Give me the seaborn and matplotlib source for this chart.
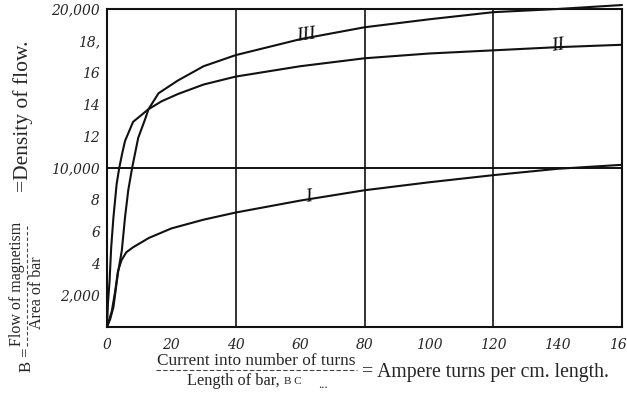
import matplotlib
matplotlib.use("Agg")
import matplotlib.pyplot as plt
import seaborn as sns
import pandas as pd
from matplotlib.lines import Line2D

# Curve I
x_I = [0, 1.5, 2.5, 3.4, 4.5, 6, 8, 13, 20, 30, 40, 60, 80, 100, 120, 140, 160]
y_I = [0, 1000, 2200, 3500, 4200, 4700, 5000, 5600, 6200, 6750, 7200, 7950, 8600, 9100, 9550, 9950, 10200]
# Curve II
x_II = [0, 0.3, 0.8, 1.3, 2.0, 3.0, 3.8, 4.7, 5.6, 8.1, 12.9, 17, 22, 30, 40, 60, 80, 100, 120, 140, 160]
y_II = [0, 1500, 2900, 5000, 6900, 9000, 10000, 10900, 11700, 12900, 13700, 14200, 14650, 15250, 15750, 16400, 16900, 17200, 17400, 17600, 17750]
# Curve III
x_III = [0, 1, 2, 3.4, 4.6, 5.6, 6.6, 7.8, 9.7, 11.9, 12.9, 16, 22, 30, 40, 50, 60, 80, 100, 120, 140, 160]
y_III = [0, 500, 1250, 3400, 4800, 6900, 8600, 10000, 11900, 13100, 13700, 14700, 15500, 16400, 17100, 17600, 18100, 18850, 19350, 19800, 20000, 20250]

y_ticks = [0, 2000, 4000, 6000, 8000, 10000, 12000, 14000, 16000, 18000, 20000]
y_labels = ["", "2,000", "4", "6", "8", "10,000", "12", "14", "16", "18,", "20,000"]
x_ticks = [0, 20, 40, 60, 80, 100, 120, 140, 160]
x_labels = ["0", "20", "40", "60", "80", "100", "120", "140", "160"]

sns.set_theme(style="white")
plt.rcParams['font.family'] = ['Liberation Serif', 'DejaVu Serif']

W, H = 627, 399
fig = plt.figure(figsize=(W / 100, H / 100), dpi=100)
ax = fig.add_axes([107 / W, 72 / H, 515 / W, 318 / H])

df = pd.concat([
    pd.DataFrame({"x": x_I, "B": y_I, "curve": "I"}),
    pd.DataFrame({"x": x_II, "B": y_II, "curve": "II"}),
    pd.DataFrame({"x": x_III, "B": y_III, "curve": "III"}),
])
sns.lineplot(data=df, x="x", y="B", hue="curve", palette=["#111111"] * 3,
             sort=False, estimator=None, legend=False, linewidth=1.5, ax=ax)
for ln in ax.lines:
    ln.set_clip_on(False)

ax.set_xlim(0, 160)
ax.set_ylim(0, 20000)
for xv in [40, 80, 120]:
    ax.axvline(xv, color="#111111", lw=1.2, zorder=1)
ax.axhline(10000, color="#111111", lw=1.4, zorder=1)

for s in ax.spines.values():
    s.set_visible(True)
    s.set_color("#111111")
    s.set_linewidth(1.5)

ax.set_yticks(y_ticks)
ax.set_yticklabels(y_labels, fontstyle="italic", fontsize=10, family=["DejaVu Serif"])
ax.set_xticks(x_ticks)
ax.set_xticklabels(x_labels, fontstyle="italic", fontsize=10, family=["DejaVu Serif"])
ax.tick_params(axis="y", direction="out", length=3, width=1.2, color="#111111", pad=2)
ax.tick_params(axis="x", direction="in", length=3, width=1.2, color="#111111", pad=8)
ax.set_xlabel("")
ax.set_ylabel("")

# Curve labels
ax.text(62, 18350, "III", fontsize=14, fontstyle="italic", rotation=8, ha="center", va="center", color="#111111")
ax.text(140, 17700, "II", fontsize=14, fontstyle="italic", rotation=8, ha="center", va="center", color="#111111")
ax.text(62.5, 8150, "I", fontsize=14, fontstyle="italic", rotation=8, ha="center", va="center", color="#111111")

def fx(px):
    return px / W

def fy(py):
    return 1 - py / H

# Y axis label (rotated fraction)
fig.text(fx(27), fy(360), "B =", rotation=90, fontsize=12, ha="center", va="center")
fig.text(fx(17), fy(284), "Flow of magnetism", rotation=90, fontsize=11.5, ha="center", va="center")
fig.text(fx(37), fy(293), "Area of bar", rotation=90, fontsize=11.5, ha="center", va="center")
fig.lines.append(Line2D([fx(27), fx(27)], [fy(346), fy(224)], transform=fig.transFigure,
                        color="#444444", lw=0.8, linestyle=(0, (3, 2))))
fig.text(fx(23), fy(116), "=Density of flow.", rotation=90, fontsize=15.5, ha="center", va="center")

# X axis label (fraction)
fig.text(fx(256), fy(361), "Current into number of turns", fontsize=12.4, ha="center", va="center")
fig.lines.append(Line2D([fx(156), fx(357)], [fy(370), fy(370)], transform=fig.transFigure,
                        color="#444444", lw=0.8, linestyle=(0, (4, 2))))
fig.text(fx(187), fy(381), "Length of bar,", fontsize=11.8, ha="left", va="center")
fig.text(fx(284), fy(382), "B C", fontsize=8, ha="left", va="center")
fig.text(fx(318), fy(385), "...", fontsize=9, ha="left", va="center")
fig.text(fx(362), fy(372), "= Ampere turns per cm. length.", fontsize=14.2, ha="left", va="center")

fig.savefig("out.png", dpi=100, facecolor="white")
